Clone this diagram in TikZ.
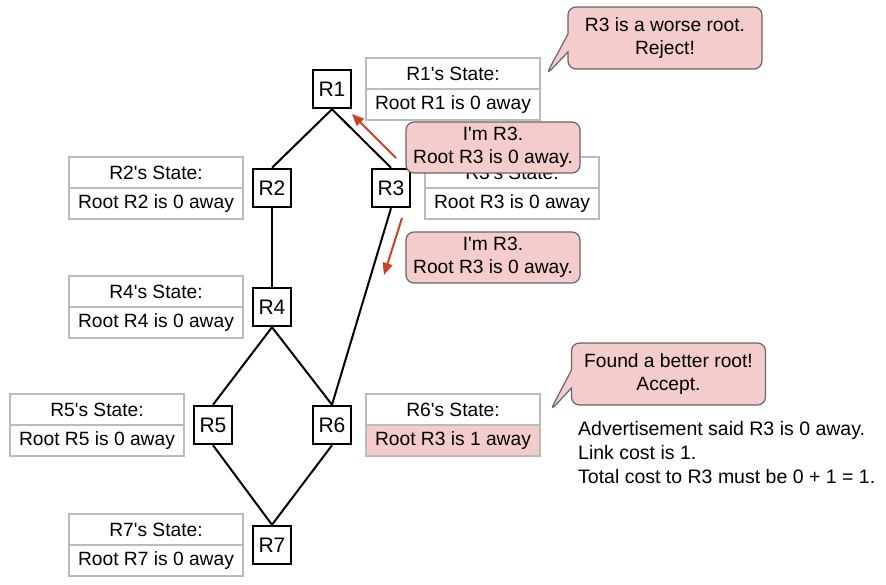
\documentclass[tikz,border=0pt]{standalone}
\usepackage{fontspec}
\setmainfont{Liberation Sans}
\usetikzlibrary{arrows.meta, shapes.callouts}
\definecolor{msgpink}{HTML}{F4CCCC}
\definecolor{advred}{HTML}{CC4125}
\definecolor{cellgray}{HTML}{BBBBBB}
\definecolor{msgedge}{HTML}{666666}
\newcommand{\q}{\textquotesingle}

\begin{document}
\begin{tikzpicture}[x=1pt,y=-1pt,
    router/.style={draw,line width=2.5pt,minimum width=38pt,minimum height=38pt,inner sep=0pt,font=\fontsize{21}{24}\selectfont},
    statecell/.style={draw=cellgray,line width=1.5pt,minimum width=174pt,minimum height=31pt,inner sep=0pt,font=\fontsize{19.2}{22}\selectfont},
    msgbox/.style={draw=msgedge,line width=1.2pt,fill=msgpink,rounded corners=8pt,align=center,minimum width=174pt,minimum height=51pt,inner sep=0pt,font=\fontsize{19.2}{23}\selectfont},
    bubble/.style={rectangle callout,draw=msgedge,line width=1.2pt,fill=msgpink,rounded corners=8pt,align=center,minimum width=194pt,minimum height=62pt,inner sep=0pt,callout pointer width=18pt,font=\fontsize{19.2}{23}\selectfont},
    link/.style={line width=2pt},
    advarrow/.style={advred,line width=2pt,-{Triangle[length=12pt,width=10pt]}}]
    \useasboundingbox (0,0) rectangle (886,585);

    % Routers
    \node[router] (r1) at (332,89) {R1};
    \node[router] (r2) at (272,188) {R2};
    \node[router] (r3) at (391,188) {R3};
    \node[router] (r4) at (272,307) {R4};
    \node[router] (r5) at (213,425) {R5};
    \node[router] (r6) at (332,425) {R6};
    \node[router] (r7) at (272,545) {R7};

    % Links
    \draw[link] (r1.south) -- (r2.north);
    \draw[link] (r1.south) -- (r3.north);
    \draw[link] (r2.south) -- (r4.north);
    \draw[link] (r4.south) -- (r5.north);
    \draw[link] (r4.south) -- (r6.north);
    \draw[link] (r3.south) -- (r6.north);
    \draw[link] (r5.south) -- (r7.north);
    \draw[link] (r6.south) -- (r7.north);

    % State tables
    \node[statecell] (s1head) at (453,73.5) {R1\q s State:};
    \node[statecell] (s1root) at (453,104.5) {Root R1 is 0 away};
    \node[statecell] (s2head) at (156,172.5) {R2\q s State:};
    \node[statecell] (s2root) at (156,203.5) {Root R2 is 0 away};
    \node[statecell] (s3head) at (512,172.5) {R3\q s State:};
    \node[statecell] (s3root) at (512,203.5) {Root R3 is 0 away};
    \node[statecell] (s4head) at (156,291.5) {R4\q s State:};
    \node[statecell] (s4root) at (156,322.5) {Root R4 is 0 away};
    \node[statecell] (s5head) at (97,409.5) {R5\q s State:};
    \node[statecell] (s5root) at (97,440.5) {Root R5 is 0 away};
    \node[statecell] (s6head) at (453,409.5) {R6\q s State:};
    \node[statecell,fill=msgpink] (s6root) at (453,440.5) {Root R3 is 1 away};
    \node[statecell] (s7head) at (156,529.5) {R7\q s State:};
    \node[statecell] (s7root) at (156,560.5) {Root R7 is 0 away};

    % Advertisements from R3
    \node[msgbox] (adv1) at (493,147.5) {I\q m R3.\\Root R3 is 0 away.};
    \node[msgbox] (adv2) at (493,257.5) {I\q m R3.\\Root R3 is 0 away.};
    \coordinate (a1from) at (396,158);
    \coordinate (a1to) at (352,114);
    \coordinate (a2from) at (402,218);
    \coordinate (a2to) at (384,275);
    \draw[advarrow] (a1from) -- (a1to);
    \draw[advarrow] (a2from) -- (a2to);

    % Decisions
    \node[bubble,callout absolute pointer={(546,75)}] (reject) at (665,38) {R3 is a worse root.\\Reject!};
    \node[bubble,callout absolute pointer={(550,411)}] (accept) at (668.5,374) {Found a better root!\\Accept.};
    \node[anchor=west,align=left,inner sep=0pt,font=\fontsize{19.5}{24}\selectfont] (note) at (578,453)
        {Advertisement said R3 is 0 away.\\Link cost is 1.\\Total cost to R3 must be 0 + 1 = 1.};
\end{tikzpicture}
\end{document}
